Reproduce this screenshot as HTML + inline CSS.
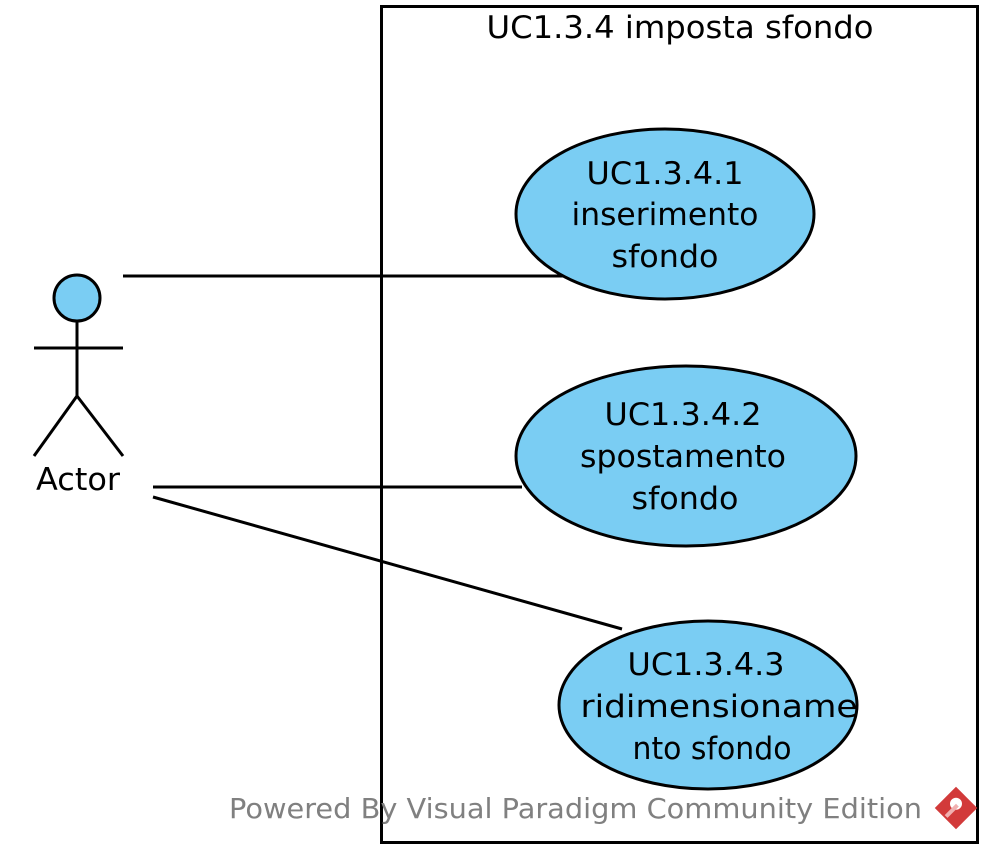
<!DOCTYPE html>
<html><head><meta charset="utf-8"><style>html,body{margin:0;padding:0;background:#fff}svg{display:block}</style></head>
<body>
<svg width="993" height="858" xmlns="http://www.w3.org/2000/svg" font-family="'DejaVu Sans','Liberation Sans',sans-serif" font-size="31">
<rect x="381.5" y="6.5" width="596" height="836" fill="#fff" stroke="#000" stroke-width="3"/>
<text x="680" y="38" text-anchor="middle" textLength="387" lengthAdjust="spacingAndGlyphs">UC1.3.4 imposta sfondo</text>
<g stroke="#000" stroke-width="3">
<line x1="123" y1="276" x2="565" y2="276"/>
<line x1="153" y1="487" x2="522" y2="487"/>
<line x1="153" y1="497" x2="622" y2="629"/>
</g>
<g fill="#7acdf3" stroke="#000" stroke-width="3">
<ellipse cx="665" cy="214" rx="149" ry="85"/>
<ellipse cx="686" cy="456" rx="170" ry="90"/>
<ellipse cx="708" cy="705" rx="149" ry="84"/>
</g>
<g text-anchor="middle">
<text x="665" y="184" textLength="157" lengthAdjust="spacingAndGlyphs">UC1.3.4.1</text>
<text x="665" y="225" textLength="187" lengthAdjust="spacingAndGlyphs">inserimento</text>
<text x="665" y="267" textLength="107" lengthAdjust="spacingAndGlyphs">sfondo</text>
<text x="683" y="425" textLength="157" lengthAdjust="spacingAndGlyphs">UC1.3.4.2</text>
<text x="683" y="467" textLength="206" lengthAdjust="spacingAndGlyphs">spostamento</text>
<text x="685" y="509" textLength="107" lengthAdjust="spacingAndGlyphs">sfondo</text>
<text x="706" y="675" textLength="157" lengthAdjust="spacingAndGlyphs">UC1.3.4.3</text>
<text x="719" y="717" textLength="277" lengthAdjust="spacingAndGlyphs">ridimensioname</text>
<text x="712" y="759" textLength="159" lengthAdjust="spacingAndGlyphs">nto sfondo</text>
</g>
<g stroke="#000" stroke-width="3" fill="none">
<circle cx="77" cy="298" r="23" fill="#7acdf3"/>
<line x1="77" y1="321" x2="77" y2="396"/>
<line x1="34" y1="348" x2="123" y2="348"/>
<line x1="77" y1="396" x2="34" y2="456"/>
<line x1="77" y1="396" x2="123" y2="456"/>
</g>
<text x="78" y="490" text-anchor="middle" textLength="84" lengthAdjust="spacingAndGlyphs">Actor</text>
<text x="229" y="818" fill="#808080" font-size="28" textLength="693" lengthAdjust="spacingAndGlyphs">Powered By Visual Paradigm Community Edition</text>
<g transform="translate(956,808) rotate(45)">
<rect x="-15" y="-15" width="30" height="30" fill="#d23a3a"/>
<circle cx="-3" cy="-3" r="6" fill="#fff"/>
<rect x="-3" y="-3" width="4" height="16" fill="#f0b0b0"/>
</g>
</svg>
</body></html>
